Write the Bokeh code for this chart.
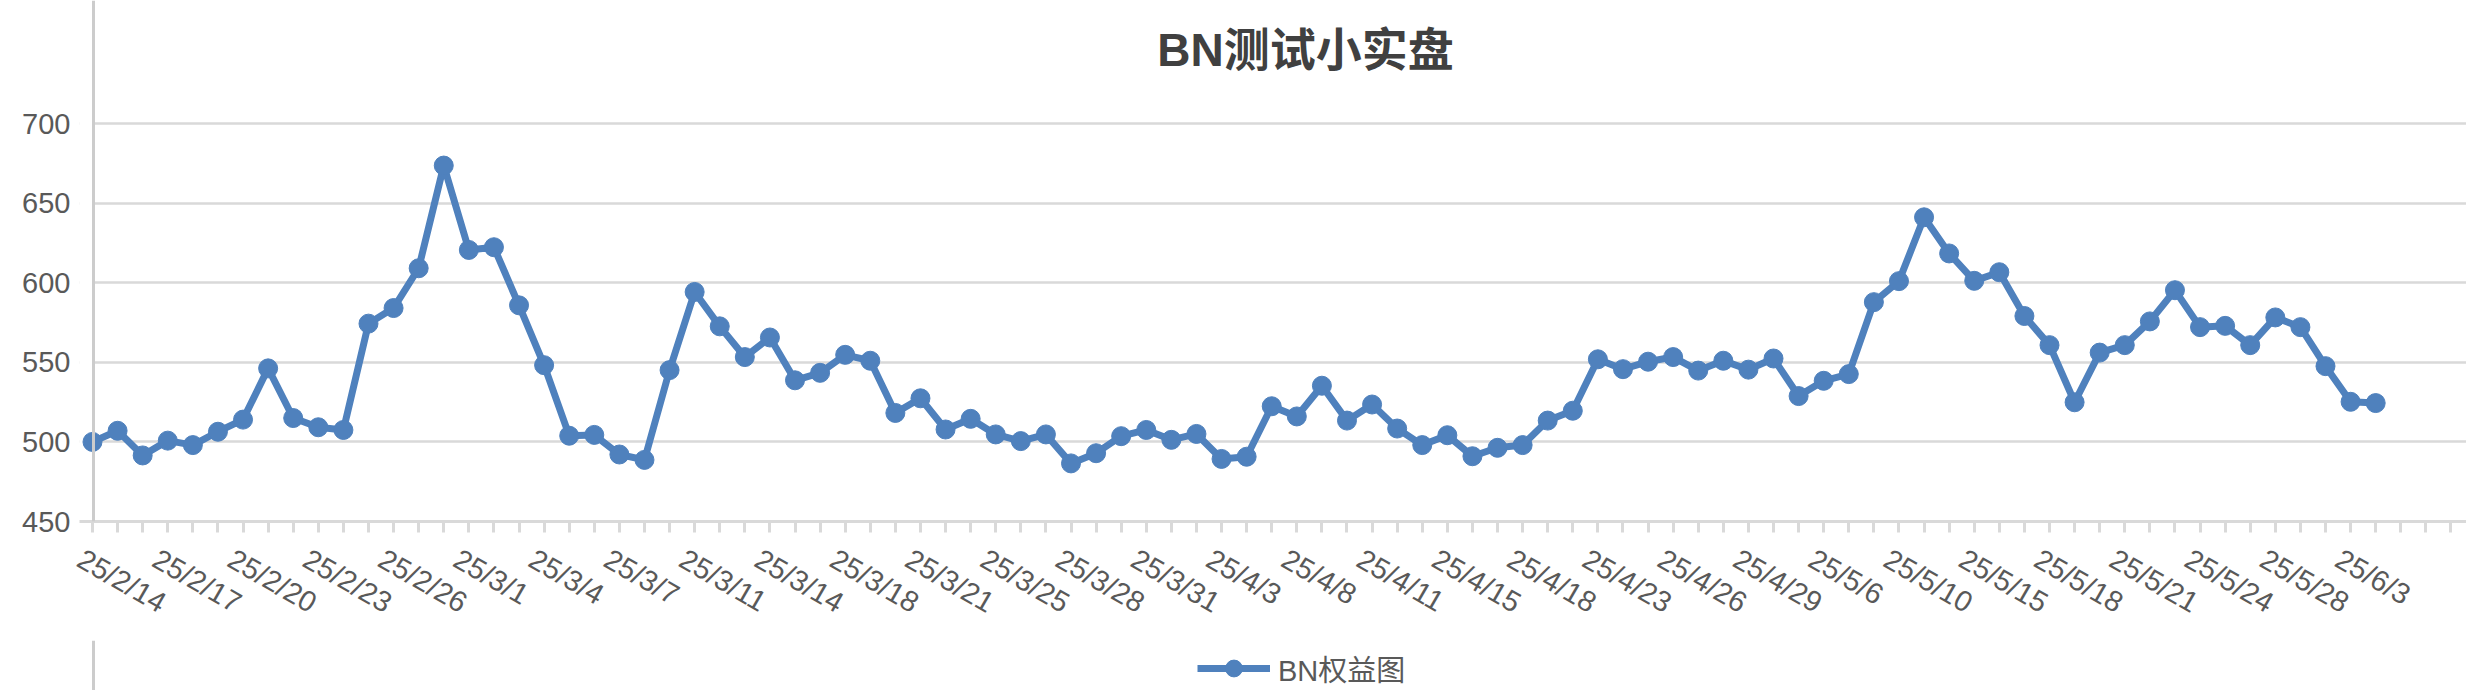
import math
from bokeh.plotting import figure
from bokeh.layouts import column
from bokeh.models import (Range1d, FixedTicker, Label, Legend, LegendItem, Span,
                          BoxAnnotation)
from bokeh.embed import file_html
from bokeh.resources import INLINE

# ---- data ----
title_text = "BN测试小实盘"
series_name = "BN权益图"
equity = [500, 507, 491.5, 500.8, 498, 506.4, 514, 546.2, 515, 509.2, 507.5, 574.3,
          584.1, 609.1, 673.6, 620.6, 622.3, 585.8, 548.2, 503.9, 504.4, 492.1, 488.7,
          545.1, 594.2, 572.6, 553.3, 565.6, 538.7,
          543.4, 554.7, 551, 518.2, 527.4, 507.8, 514.5, 504.7, 500.5, 504.7, 486.5,
          492.9, 503.6, 507.5, 501.3, 505, 489.3, 490.7, 522.4, 516, 535.3, 513.4,
          523.5, 508.4, 498, 504.2, 491, 496.3, 498, 513.4, 519.6, 551.9, 545.7, 550.4,
          553.3, 544.8, 551, 545.4, 552.4, 528.8, 538.4, 542.6, 587.8, 601, 641.1,
          618.4, 601.2, 606.6, 579.1, 560.8, 524.9, 556.1, 560.8, 575.7, 595.3, 572.1,
          572.9, 560.8, 578.2, 572.1, 547.6, 525.2, 524.4]
date_labels = ["25/2/14", "25/2/17", "25/2/20", "25/2/23", "25/2/26", "25/3/1",
               "25/3/4", "25/3/7", "25/3/11", "25/3/14", "25/3/18", "25/3/21",
               "25/3/25", "25/3/28", "25/3/31", "25/4/3", "25/4/8", "25/4/11",
               "25/4/15", "25/4/18", "25/4/23", "25/4/26", "25/4/29", "25/5/6",
               "25/5/10", "25/5/15", "25/5/18", "25/5/21", "25/5/24", "25/5/28",
               "25/6/3"]
label_every = 3
n_categories = 95
y_ticks = [450, 500, 550, 600, 650, 700]

xs = list(range(len(equity)))
LABEL_SHIFT = -0.5
label_pos = [i * label_every + LABEL_SHIFT for i in range(len(date_labels))]

BLUE = "#4f81bd"
GRID = "#d9d9d9"
AXIS = "#cccccc"
TXT = "#595959"
FONT = "Liberation Sans, Noto Sans CJK SC"
W = 2466
LEFT = 79

p = figure(width=W, height=640, output_backend="svg", toolbar_location=None,
           x_range=Range1d(-0.518, 94.62), y_range=Range1d(450, 777.3),
           min_border_left=LEFT, min_border_right=0, min_border_top=0,
           min_border_bottom=119)
p.outline_line_color = None
p.background_fill_color = "white"
p.border_fill_color = "white"

# y axis (its line is drawn as a span at the first category)
p.yaxis.ticker = FixedTicker(ticks=y_ticks)
p.yaxis.axis_line_color = None
p.yaxis.major_tick_line_color = None
p.yaxis.major_tick_out = 0
p.yaxis.major_tick_in = 0
p.yaxis.minor_tick_line_color = None
p.yaxis.major_label_text_font = FONT
p.yaxis.major_label_text_font_size = "29px"
p.yaxis.major_label_text_color = TXT
p.yaxis.major_label_standoff = 9
p.ygrid.ticker = FixedTicker(ticks=y_ticks[1:])
p.ygrid.grid_line_color = GRID
p.ygrid.grid_line_width = 2.5
p.add_layout(BoxAnnotation(right=0.04, fill_color="white", fill_alpha=1,
                           line_color=None, level="underlay"))
p.add_layout(Span(location=0.04, dimension="height", line_color=AXIS, line_width=3))

# x axis
p.xgrid.grid_line_color = None
p.xaxis.ticker = FixedTicker(ticks=label_pos, minor_ticks=list(range(n_categories)))
p.xaxis.major_label_overrides = {pos: lab for pos, lab in zip(label_pos, date_labels)}
p.xaxis.axis_line_color = GRID
p.xaxis.axis_line_width = 3
p.xaxis.major_tick_line_color = None
p.xaxis.major_tick_in = 0
p.xaxis.major_tick_out = 11
p.xaxis.minor_tick_line_color = GRID
p.xaxis.minor_tick_line_width = 3
p.xaxis.minor_tick_in = 0
p.xaxis.minor_tick_out = 11
p.xaxis.major_label_orientation = -math.pi / 6
p.xaxis.major_label_text_font = FONT
p.xaxis.major_label_text_font_size = "29px"
p.xaxis.major_label_text_color = TXT
p.xaxis.major_label_standoff = 24

# series
ln = p.line(xs, equity, line_color=BLUE, line_width=7)
sc = p.scatter(xs, equity, size=19, fill_color=BLUE, line_color=BLUE)

# title
p.add_layout(Label(x=48.35, y=745.9, text=title_text, text_align="center",
                   text_baseline="middle", text_font=FONT, text_font_size="46px",
                   text_font_style="bold", text_color="#404040"))

# legend strip below the chart (frame aligned with the chart's frame)
p2 = figure(width=W, height=50, output_backend="svg", toolbar_location=None,
            x_range=Range1d(LEFT, W), y_range=Range1d(0, 50),
            min_border_left=LEFT, min_border_right=0, min_border_top=0,
            min_border_bottom=0)
p2.axis.visible = False
p2.grid.visible = False
p2.outline_line_color = None
p2.background_fill_color = "white"
p2.border_fill_color = "white"
p2.add_layout(Span(location=93, dimension="height", line_color=AXIS, line_width=3))
ln2 = p2.line([-100, -90], [-100, -90], line_color=BLUE, line_width=7)
sc2 = p2.scatter([-100], [-100], size=19, fill_color=BLUE, line_color=BLUE)
legend = Legend(items=[LegendItem(label=series_name, renderers=[ln2, sc2])],
                location=(1197 - LEFT, 1), orientation="horizontal", margin=0, padding=0,
                glyph_width=73, glyph_height=42, label_standoff=8,
                label_text_font=FONT, label_text_font_size="29px",
                label_text_color=TXT, border_line_color=None,
                background_fill_alpha=0)
p2.add_layout(legend, "center")

layout = column(p, p2, spacing=0)
open("out.html", "w").write(file_html(layout, INLINE))
